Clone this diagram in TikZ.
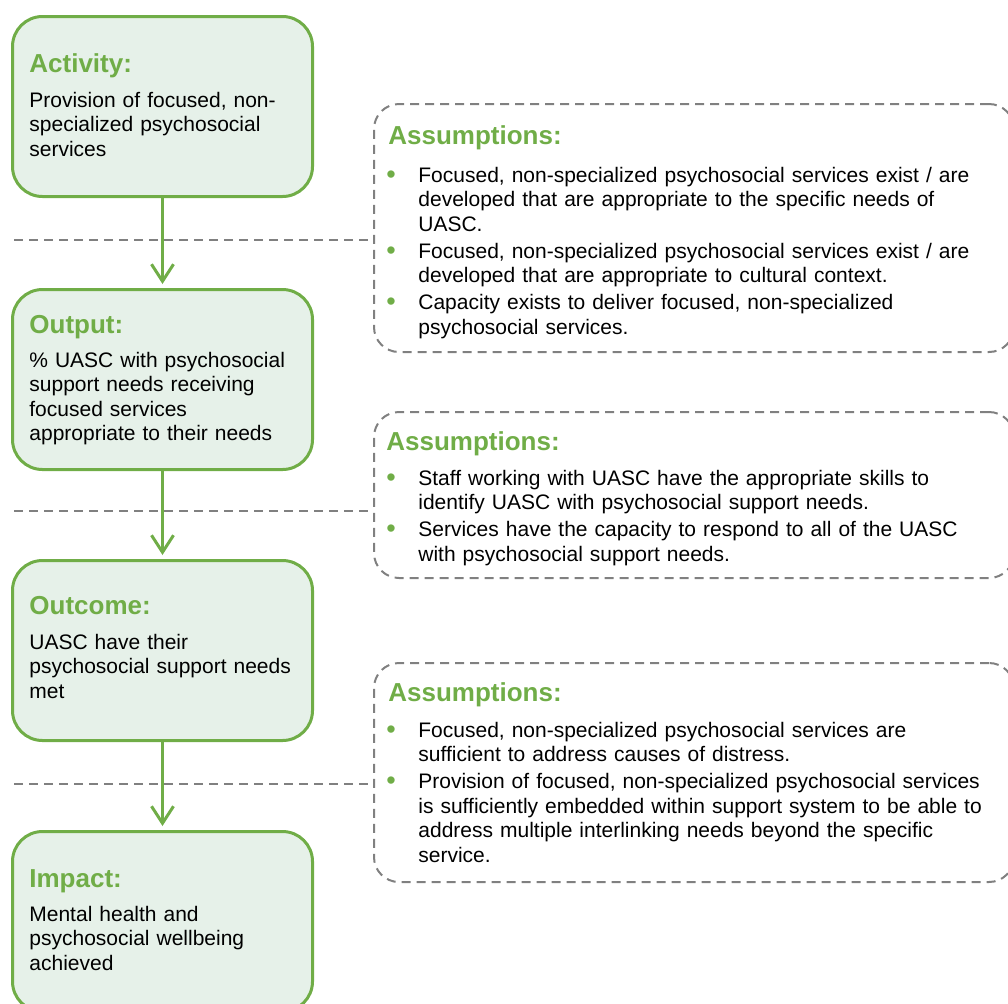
\documentclass[tikz,border=0pt]{standalone}
\usepackage{fontspec}
\setmainfont{Liberation Sans}
\usetikzlibrary{arrows.meta,positioning}
\definecolor{tcgreen}{RGB}{112,173,71}
\definecolor{tcfill}{RGB}{230,241,233}
\definecolor{tcgray}{RGB}{128,128,128}
\newcommand{\asmitem}[1]{\hangindent=16pt\hangafter=1\noindent\hbox to 16pt{\raisebox{-0.6pt}{\fontsize{13.5}{13.5}\selectfont\textcolor{tcgreen}{•}}\hss}{\let\\\newline#1}\par\vspace{1.25pt}}

\begin{document}
\begin{tikzpicture}[x=0.5pt, y=-0.5pt,
  stagebox/.style={draw=tcgreen, fill=tcfill, line width=1.5pt, rounded corners=15pt,
    minimum width=150pt, minimum height=90pt, anchor=north west, inner sep=0pt},
  asmbox/.style={draw=tcgray, line width=1pt, dash pattern=on 4.5pt off 3pt,
    rounded corners=12.5pt, minimum width=320pt, anchor=north west, inner sep=0pt},
  headtext/.style={font=\fontsize{13}{15}\selectfont\bfseries, text=tcgreen, anchor=base west, inner sep=0pt},
  bodytext/.style={font=\fontsize{10.5}{12.25}\selectfont, anchor=base west, inner sep=0pt, text width=#1},
  flowarrow/.style={draw=tcgreen, line width=1.5pt, -{Straight Barb[length=8.5pt,width=11pt]}, shorten >=2pt},
  sepline/.style={draw=tcgray, line width=1pt, dash pattern=on 4.5pt off 3pt}]
\useasboundingbox (0,0) rectangle (1008,1003);
% Results chain
\node[stagebox] (act) at (11,15) {};
\node[stagebox] (output) at (11,288) {};
\node[stagebox] (outcome) at (11,559) {};
\node[stagebox] (impact) at (11,830) {};
\node[headtext] (actT) at (29,72) {Activity:};
\node[bodytext=140pt] (actB) at (29,107) {Provision of focused, non-\\specialized psychosocial\\services};
\node[headtext] (outputT) at (29,333) {Output:};
\node[bodytext=140pt] (outputB) at (29,367) {\% UASC with psychosocial\\support needs receiving\\focused services\\appropriate to their needs};
\node[headtext] (outcomeT) at (29,614) {Outcome:};
\node[bodytext=140pt] (outcomeB) at (29,649) {UASC have their\\psychosocial support needs\\met};
\node[headtext] (impactT) at (29,887) {Impact:};
\node[bodytext=140pt] (impactB) at (29,921) {Mental health and\\psychosocial wellbeing\\achieved};
% Assumptions
\node[asmbox, minimum height=124pt] (asmA) at (373,103) {};
\node[asmbox, minimum height=83pt] (asmB) at (373,411) {};
\node[asmbox, minimum height=109.5pt] (asmC) at (373,662) {};
\node[headtext] (asmAT) at (388,144) {Assumptions:};
\node[bodytext=310pt] (asmAB) at (386,182) {%
  \asmitem{Focused, non-specialized psychosocial services exist / are\\developed that are appropriate to the specific needs of\\UASC.}%
  \asmitem{Focused, non-specialized psychosocial services exist / are\\developed that are appropriate to cultural context.}%
  \asmitem{Capacity exists to deliver focused, non-specialized\\psychosocial services.}};
\node[headtext] (asmBT) at (386,450) {Assumptions:};
\node[bodytext=310pt] (asmBB) at (386,485) {%
  \asmitem{Staff working with UASC have the appropriate skills to\\identify UASC with psychosocial support needs.}%
  \asmitem{Services have the capacity to respond to all of the UASC\\with psychosocial support needs.}};
\node[headtext] (asmCT) at (388,701) {Assumptions:};
\node[bodytext=310pt] (asmCB) at (386,737) {%
  \asmitem{Focused, non-specialized psychosocial services are\\sufficient to address causes of distress.}%
  \asmitem{Provision of focused, non-specialized psychosocial services\\is sufficiently embedded within support system to be able to\\address multiple interlinking needs beyond the specific\\service.}};
% Separators
\coordinate (sepA) at (14,240);
\coordinate (sepB) at (14,511);
\coordinate (sepC) at (14,784);
\draw[sepline] (sepA) -- (sepA -| asmA.west);
\draw[sepline] (sepB) -- (sepB -| asmB.west);
\draw[sepline] (sepC) -- (sepC -| asmC.west);
% Arrows
\draw[flowarrow] (act) -- (output);
\draw[flowarrow] (output) -- (outcome);
\draw[flowarrow] (outcome) -- (impact);
\end{tikzpicture}
\end{document}
